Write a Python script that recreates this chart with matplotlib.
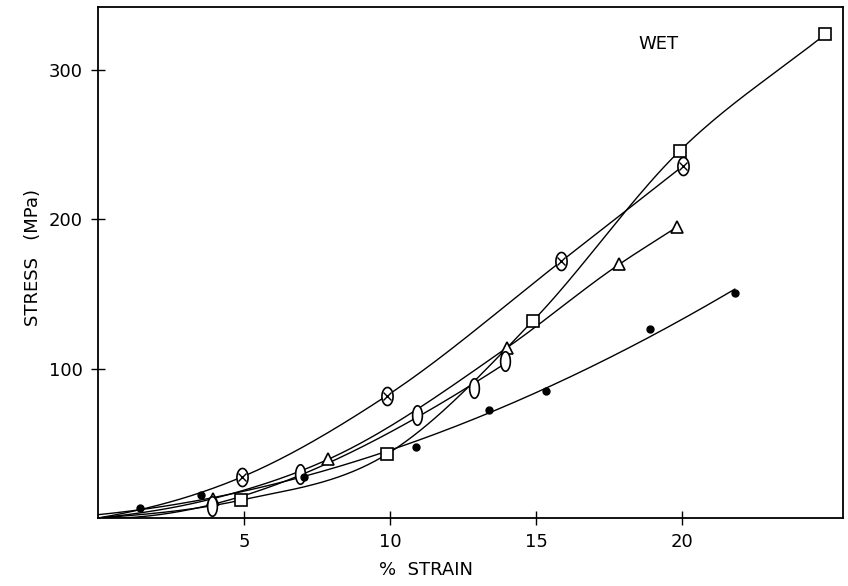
import numpy as np
import matplotlib
matplotlib.use('Agg')
import matplotlib.pyplot as plt
from matplotlib.path import Path

# values (strain %, stress MPa)
cross_x = [4.94, 9.88, 15.86, 20.03]
cross_y = [27.6, 81.8, 171.9, 235.7]

square_x = [4.9, 9.88, 14.89, 19.91, 24.89]
square_y = [12.0, 42.6, 132.0, 245.7, 323.7]

tri_x = [3.94, 7.87, 14.0, 17.85, 19.83]
tri_y = [13.0, 39.2, 114.0, 169.9, 194.9]

oval_x = [3.9, 6.9, 10.93, 12.87, 13.92]
oval_y = [8.2, 29.2, 68.9, 86.7, 105.2]

dot_x = [1.43, 3.52, 7.05, 10.9, 13.4, 15.35, 18.9, 21.8]
dot_y = [6.5, 15.4, 27.6, 47.7, 72.2, 84.7, 126.6, 150.7]

x_ticks = [5, 10, 15, 20]
y_ticks = [100, 200, 300]


def smooth_through(xs, ys, n=40):
    # cubic hermite curve through the points, starting from the origin
    x = np.concatenate([[0.0], xs])
    y = np.concatenate([[0.0], ys])
    m = np.gradient(y, x)
    m[0] = y[1] / x[1] * 0.6
    t = np.linspace(0, 1, n)
    h00 = 2*t**3 - 3*t**2 + 1
    h10 = t**3 - 2*t**2 + t
    h01 = -2*t**3 + 3*t**2
    h11 = t**3 - t**2
    cx, cy = [], []
    for i in range(len(x) - 1):
        h = x[i+1] - x[i]
        cx.append(x[i] + t*h)
        cy.append(h00*y[i] + h10*h*m[i] + h01*y[i+1] + h11*h*m[i+1])
    return np.concatenate(cx), np.concatenate(cy)


def fit_curve(xs, ys, deg=3):
    x = np.concatenate([[0.0], xs])
    y = np.concatenate([[0.0], ys])
    p = np.polyfit(x, y, deg)
    cx = np.linspace(0, x[-1], 200)
    return cx, np.polyval(p, cx)


ang = np.linspace(0, 2*np.pi, 60)
oval = Path(np.column_stack([0.5*np.cos(ang), np.sin(ang)]))
fat_oval = Path(np.column_stack([0.62*np.cos(ang), np.sin(ang)]))

plt.rcParams['font.family'] = 'DejaVu Sans'
fig = plt.figure(figsize=(8.48, 5.86), dpi=100)
ax = fig.add_axes([0.1156, 0.116, 0.8784, 0.872])

lw = 1.0
ax.plot(*smooth_through(cross_x, cross_y), color='black', lw=lw)
ax.plot(*smooth_through(square_x, square_y), color='black', lw=lw)
ax.plot(*smooth_through(tri_x, tri_y), color='black', lw=lw)
ax.plot(*fit_curve(oval_x, oval_y), color='black', lw=lw)
ax.plot(*fit_curve(dot_x, dot_y), color='black', lw=lw)

ax.plot(cross_x, cross_y, ls='none', marker=fat_oval, ms=13, mfc='white', mec='black', mew=1.2)
ax.plot(cross_x, cross_y, ls='none', marker='x', ms=6, mec='black', mew=1.0)
ax.plot(square_x, square_y, ls='none', marker='s', ms=9, mfc='white', mec='black', mew=1.2)
ax.plot(tri_x, tri_y, ls='none', marker='^', ms=9, mfc='white', mec='black', mew=1.2)
ax.plot(oval_x, oval_y, ls='none', marker=oval, ms=14, mfc='white', mec='black', mew=1.2)
ax.plot(dot_x, dot_y, ls='none', marker='o', ms=5, color='black')

ax.set_xlim(0, 25.5)
ax.set_ylim(0, 342)
ax.set_xticks(x_ticks)
ax.set_yticks(y_ticks)
ax.tick_params(direction='inout', length=10, width=1, labelsize=13, pad=6)
for s in ax.spines.values():
    s.set_linewidth(1.3)

ax.set_xlabel('%  STRAIN', fontsize=13)
ax.xaxis.set_label_coords(0.44, -0.085)
ax.set_ylabel('STRESS   (MPa)', fontsize=13)
ax.yaxis.set_label_coords(-0.075, 0.51)

ax.text(19.2, 317, 'WET', fontsize=13, ha='center', va='center')

fig.savefig('out.png', dpi=100)
